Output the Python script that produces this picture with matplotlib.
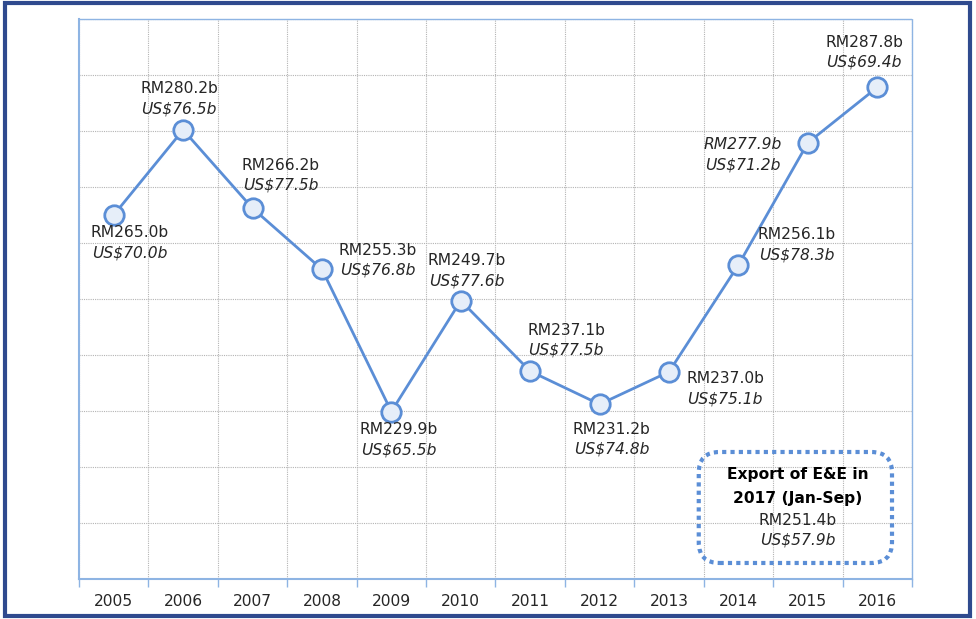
import matplotlib
matplotlib.use("Agg")
import matplotlib.pyplot as plt
from matplotlib.patches import Rectangle, FancyBboxPatch
import numpy as np

## DATA
years = ["2005", "2006", "2007", "2008", "2009", "2010",
         "2011", "2012", "2013", "2014", "2015", "2016"]
rm_values = [265.0, 280.2, 266.2, 255.3, 229.9, 249.7,
             237.1, 231.2, 237.0, 256.1, 277.9, 287.8]
us_values = [70.0, 76.5, 77.5, 76.8, 65.5, 77.6,
             77.5, 74.8, 75.1, 78.3, 71.2, 69.4]
box_lines = ["Export of E&E in", "2017 (Jan-Sep)", "RM251.4b", "US$57.9b"]

## STYLE
LINE_BLUE = "#5B8ED6"
MARKER_FACE = "#E6EEF9"
AXIS_BLUE = "#8EB4E3"
FRAME_BLUE = "#2F4A8E"
GRID = "#B4B4B4"
TEXT = "#262626"
FONT = "DejaVu Sans"
FS = 11.2

# label offsets in pixels (dx, dy) from point to the RM line
label_offsets = [(16, -18), (-4, 41), (28, 43), (56, 19), (7, -18), (6, 40),
                 (36, 41), (12, -25), (56, -7), (58, 30), (-65, -2), (-13, 45)]
italic_rm = [False] * 10 + [True, False]

fig = plt.figure(figsize=(9.76, 6.19), dpi=100, facecolor="white")
ax = fig.add_axes([79 / 976, 1 - 579 / 619, 833 / 976, 560 / 619])

x = np.arange(len(years))
ax.plot(x, rm_values, color=LINE_BLUE, linewidth=2, marker="o", markersize=14,
        markerfacecolor=MARKER_FACE, markeredgecolor=LINE_BLUE, markeredgewidth=2,
        zorder=5, clip_on=False)

ax.set_xlim(-0.5, len(years) - 0.5)
ax.set_ylim(200, 300)
ax.set_yticks(np.arange(200, 301, 10))
ax.set_yticklabels([])
ax.tick_params(axis="y", length=0)
ax.set_xticks(x)
ax.set_xticklabels(years, fontsize=FS, color=TEXT, family=FONT)
ax.set_xticks(np.arange(-0.5, len(years), 1), minor=True)
ax.tick_params(axis="x", which="major", length=0, pad=11)
ax.tick_params(axis="x", which="minor", length=6, color=AXIS_BLUE, width=1)

ax.grid(axis="y", which="major", color=GRID, linestyle=(0, (1, 1)), linewidth=0.8)
ax.grid(axis="x", which="minor", color=GRID, linestyle=(0, (1, 1)), linewidth=0.8)
ax.set_axisbelow(True)

for side in ["left", "bottom"]:
    ax.spines[side].set_color(AXIS_BLUE)
    ax.spines[side].set_linewidth(1.5)
for side in ["top", "right"]:
    ax.spines[side].set_color(AXIS_BLUE)
    ax.spines[side].set_linestyle((0, (1, 1)))
    ax.spines[side].set_linewidth(1)

# point labels
for i in range(len(years)):
    dx, dy = label_offsets[i]
    ax.annotate("RM%.1fb" % rm_values[i], xy=(i, rm_values[i]), xytext=(dx, dy),
                textcoords="offset pixels", ha="center", va="center",
                fontsize=FS, color=TEXT, family=FONT,
                style="italic" if italic_rm[i] else "normal", zorder=6)
    ax.annotate("US$%.1fb" % us_values[i], xy=(i, rm_values[i]), xytext=(dx, dy - 20),
                textcoords="offset pixels", ha="center", va="center",
                fontsize=FS, color=TEXT, family=FONT, style="italic", zorder=6)

# 2017 box
box = FancyBboxPatch((0.744, 0.0286), 0.976 - 0.744, 0.2268 - 0.0286,
                     boxstyle="round,pad=0,rounding_size=0.025", mutation_aspect=833 / 560,
                     transform=ax.transAxes, facecolor="none", edgecolor=LINE_BLUE,
                     linewidth=3, linestyle=(0, (1, 1)), zorder=4)
ax.add_patch(box)
box_y = [0.186, 0.143, 0.105, 0.070]
box_weight = ["bold", "bold", "normal", "normal"]
box_style = ["normal", "normal", "normal", "italic"]
for txt, yy, w, s in zip(box_lines, box_y, box_weight, box_style):
    ax.text(0.863, yy, txt, transform=ax.transAxes, ha="center", va="center",
            fontsize=FS, color="black" if w == "bold" else TEXT, family=FONT,
            fontweight=w, style=s, zorder=6)

# outer frame
fig.patches.append(Rectangle((5 / 976, 3 / 619), 965 / 976, 613 / 619,
                             transform=fig.transFigure, fill=False,
                             edgecolor=FRAME_BLUE, linewidth=3))

fig.savefig("out.png", dpi=100, facecolor="white")
